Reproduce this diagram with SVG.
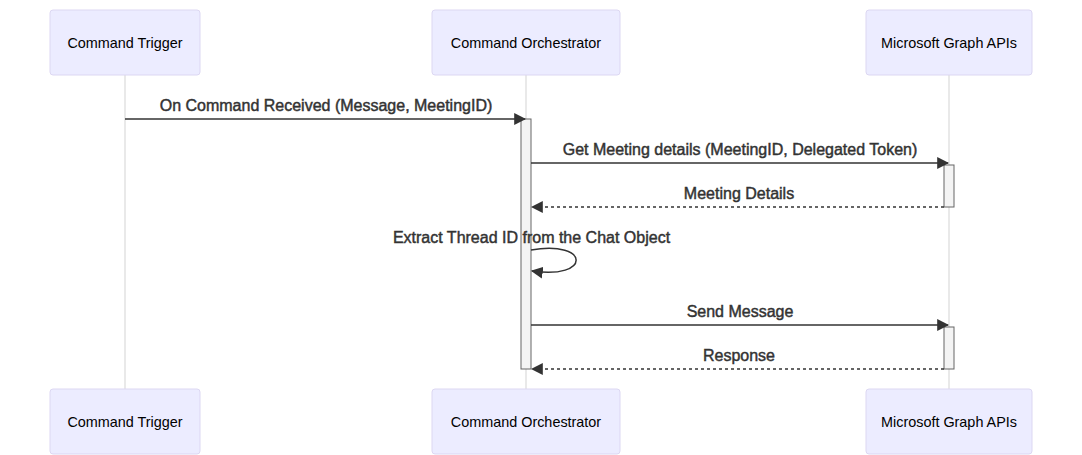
<svg xmlns="http://www.w3.org/2000/svg" width="1082" height="455" viewBox="0 0 1082 455">
<style>
.actor{fill:#ECECFF;stroke:#DCD7F2;stroke-width:1}
.atext{font-family:"Liberation Sans",Arial,sans-serif;font-size:14.4px;fill:#000;text-anchor:middle}
.life{stroke:#D3D3D3;stroke-width:1}
.msg{stroke:#333;stroke-width:1.5;fill:none}
.dash{stroke-dasharray:3,3}
.mtext{font-family:"Liberation Sans",Arial,sans-serif;font-size:16px;fill:#333;stroke:#333;stroke-width:0.45;text-anchor:middle}
.act{fill:#F4F4F4;stroke:#666;stroke-width:1}
</style>
<defs>
<marker id="arrow" viewBox="0 0 10 10" refX="9" refY="5" markerWidth="12" markerHeight="12" markerUnits="userSpaceOnUse" orient="auto">
<path d="M0,0 L10,5 L0,10 z" fill="#333"/>
</marker>
</defs>
<rect width="1082" height="455" fill="#fff"/>
<g id="lifelines">
<line class="life" x1="125" y1="75" x2="125" y2="389"/>
<line class="life" x1="526" y1="75" x2="526" y2="389"/>
<line class="life" x1="949" y1="75" x2="949" y2="389"/>
</g>
<g id="trigger">
<rect class="actor" x="50" y="10" width="150" height="65" rx="3"/>
<text class="atext" x="125" y="47.5">Command Trigger</text>
</g>
<g id="orchestrator">
<rect class="actor" x="432" y="10" width="188" height="65" rx="3"/>
<text class="atext" x="526" y="47.5">Command Orchestrator</text>
</g>
<g id="graph">
<rect class="actor" x="866" y="10" width="166" height="65" rx="3"/>
<text class="atext" x="949" y="47.5">Microsoft Graph APIs</text>
</g>
<g id="trigger-bottom">
<rect class="actor" x="50" y="389" width="150" height="65" rx="3"/>
<text class="atext" x="125" y="426.5">Command Trigger</text>
</g>
<g id="orchestrator-bottom">
<rect class="actor" x="432" y="389" width="188" height="65" rx="3"/>
<text class="atext" x="526" y="426.5">Command Orchestrator</text>
</g>
<g id="graph-bottom">
<rect class="actor" x="866" y="389" width="166" height="65" rx="3"/>
<text class="atext" x="949" y="426.5">Microsoft Graph APIs</text>
</g>
<g id="activations">
<rect class="act" x="521" y="119" width="10" height="250"/>
<rect class="act" x="944" y="165" width="10" height="42"/>
<rect class="act" x="944" y="327" width="10" height="42"/>
</g>
<g id="connectors">
<line class="msg" x1="125" y1="119" x2="525" y2="119" marker-end="url(#arrow)"/>
<text class="mtext" x="326" y="110.5">On Command Received (Message, MeetingID)</text>
<line class="msg" x1="531" y1="163" x2="948" y2="163" marker-end="url(#arrow)"/>
<text class="mtext" x="740" y="154.5">Get Meeting details (MeetingID, Delegated Token)</text>
<line class="msg dash" x1="944" y1="207" x2="532" y2="207" marker-end="url(#arrow)"/>
<text class="mtext" x="739" y="198.5">Meeting Details</text>
<path class="msg" d="M531,250 C591,240 591,280 532,271" marker-end="url(#arrow)"/>
<text class="mtext" x="531.5" y="242.5">Extract Thread ID from the Chat Object</text>
<line class="msg" x1="531" y1="325" x2="948" y2="325" marker-end="url(#arrow)"/>
<text class="mtext" x="740" y="316.5">Send Message</text>
<line class="msg dash" x1="944" y1="369" x2="532" y2="369" marker-end="url(#arrow)"/>
<text class="mtext" x="739" y="360.5">Response</text>
</g>
</svg>
